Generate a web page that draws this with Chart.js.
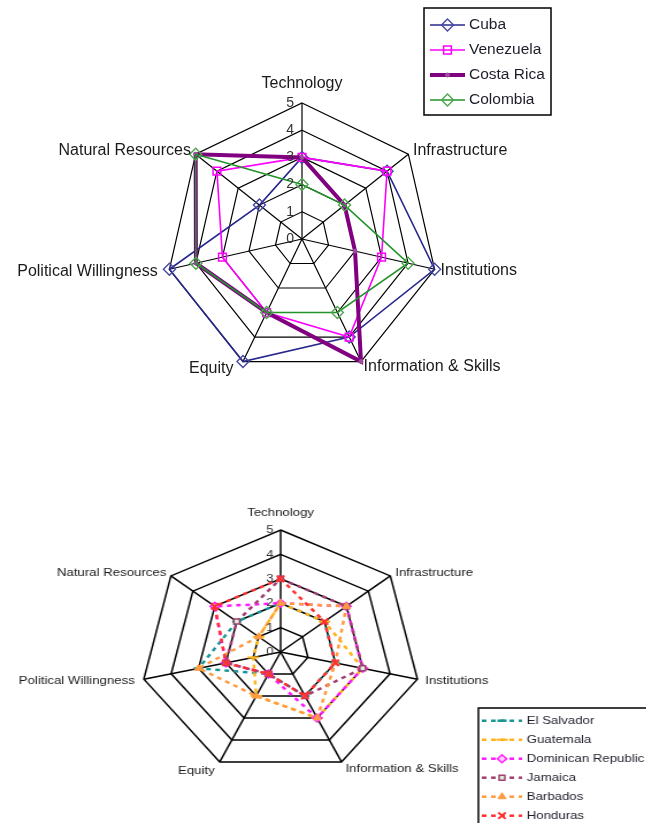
<!DOCTYPE html>
<html>
<head>
<meta charset="utf-8">
<script src="https://cdn.jsdelivr.net/npm/chart.js@4.4.1/dist/chart.umd.min.js"></script>
<style>
  body { margin: 0; background: #fff; overflow: hidden; }
  #topBox { position: absolute; left: 0; top: 0; width: 646px; height: 400px; }
  #botBox { position: absolute; left: 0; top: 400px; width: 562px; height: 423px;
            transform: scaleX(1.15); transform-origin: 0 0; }
</style>
</head>
<body>
<div id="topBox"><canvas id="topChart" width="646" height="400" style="width:646px;height:400px"></canvas></div>
<div id="botBox"><canvas id="botChart" width="562" height="423" style="width:562px;height:423px"></canvas></div>
<script>
// axes, clockwise from the top
const dimensions = ['Technology', 'Infrastructure', 'Institutions', 'Information & Skills',
                    'Equity', 'Political Willingness', 'Natural Resources'];
const tickValues = [0, 1, 2, 3, 4, 5];

// first chart
const cuba      = [3, 4, 5, 4, 5, 5, 2];
const venezuela = [3, 4, 3, 4, 3, 3, 4];
const costaRica = [3, 2, 2, 5, 3, 4, 5];
const colombia  = [2, 2, 4, 3, 3, 4, 5];

// second chart
const elSalvador = [2, 2, 2, 2, 1, 3, 2];
const guatemala  = [2, 2, 3, 3, 2, 1, 1];
const dominican  = [2, 3, 3, 3, 1, 2, 3];
const jamaica    = [3, 3, 3, 2, 1, 2, 2];
const barbados   = [2, 3, 2, 3, 2, 3, 1];
const honduras   = [3, 2, 2, 2, 1, 2, 3];

const FONT = '"Liberation Sans", Arial, sans-serif';

function marker(ctx, style, x, y, r, fill, stroke, lw) {
    ctx.save();
    ctx.fillStyle = fill;
    ctx.strokeStyle = stroke;
    ctx.lineWidth = lw;
    if (Chart.helpers && Chart.helpers.drawPoint) {
        Chart.helpers.drawPoint(ctx, { pointStyle: style, radius: r, borderWidth: lw, rotation: 0 }, x, y);
    } else {
        ctx.beginPath(); ctx.arc(x, y, r, 0, Math.PI * 2); ctx.fill(); ctx.stroke();
    }
    ctx.restore();
}

// tick numbers, point labels and the boxed legend
function decorations(opts) {
    return {
        id: 'decor',
        afterDraw(chart) {
            const s = chart.scales.r;
            const ctx = chart.ctx;
            ctx.save();
            // ticks
            ctx.font = opts.tickFont;
            ctx.fillStyle = '#333';
            ctx.textAlign = 'right';
            ctx.textBaseline = 'middle';
            tickValues.forEach(v => {
                const d = s.getDistanceFromCenterForValue(v);
                ctx.fillText(String(v), s.xCenter - opts.tickGap, s.yCenter - d);
            });
            // point labels
            ctx.font = opts.labelFont;
            ctx.fillStyle = '#1a1a1a';
            chart.data.labels.forEach((lab, i) => {
                const p = s.getPointPosition(i, s.drawingArea + opts.labelPad[i]);
                const dx = p.x - s.xCenter;
                ctx.textAlign = Math.abs(dx) < 2 ? 'center' : (dx > 0 ? 'left' : 'right');
                ctx.fillText(lab, p.x + (opts.labelShiftX[i] || 0), p.y);
            });
            // legend
            const L = opts.legend;
            ctx.strokeStyle = '#000';
            ctx.lineWidth = 1.5;
            ctx.strokeRect(L.x, L.y, L.w, L.h);
            ctx.font = opts.legendFont;
            ctx.textAlign = 'left';
            chart.data.datasets.forEach((ds, i) => {
                const y = L.firstRow + i * L.rowGap;
                ctx.save();
                ctx.strokeStyle = ds.borderColor;
                ctx.lineWidth = ds.borderWidth;
                ctx.setLineDash(ds.borderDash || []);
                ctx.beginPath();
                ctx.moveTo(L.sampleX0, y);
                ctx.lineTo(L.sampleX1, y);
                ctx.stroke();
                ctx.restore();
                marker(ctx, ds.pointStyle, (L.sampleX0 + L.sampleX1) / 2, y, ds.pointRadius,
                       ds.pointBackgroundColor, ds.pointBorderColor, ds.pointBorderWidth);
                ctx.fillStyle = '#1e1e2a';
                ctx.fillText(ds.label, L.textX, y);
            });
            ctx.restore();
        }
    };
}

function radarScale(gridWidth) {
    return {
        r: {
            min: 0, max: 5,
            ticks: { display: false, stepSize: 1 },
            grid: { color: '#000', lineWidth: gridWidth },
            angleLines: { color: '#000', lineWidth: gridWidth },
            pointLabels: { display: false }
        }
    };
}

// later series sit on top, as in the original
new Chart(document.getElementById('topChart'), {
    type: 'radar',
    data: {
        labels: dimensions,
        datasets: [
            { label: 'Cuba', data: cuba, order: 4, borderColor: '#28288c', borderWidth: 1.6,
              pointStyle: 'rectRot', pointRadius: 6, pointBorderWidth: 1.4,
              pointBackgroundColor: 'rgba(255,255,255,0)', pointBorderColor: '#4848a4' },
            { label: 'Venezuela', data: venezuela, order: 3, borderColor: '#ff00ff', borderWidth: 1.6,
              pointStyle: 'rect', pointRadius: 5.5, pointBorderWidth: 1.5,
              pointBackgroundColor: 'rgba(255,255,255,0)', pointBorderColor: '#ff00ff' },
            { label: 'Costa Rica', data: costaRica, order: 2, borderColor: '#800080', borderWidth: 4,
              pointStyle: 'circle', pointRadius: 2, pointBorderWidth: 1,
              pointBackgroundColor: '#9a509a', pointBorderColor: '#9a509a' },
            { label: 'Colombia', data: colombia, order: 1, borderColor: '#22932a', borderWidth: 1.6,
              pointStyle: 'rectRot', pointRadius: 6, pointBorderWidth: 1.4,
              pointBackgroundColor: 'rgba(255,255,255,0)', pointBorderColor: '#4ea64e' }
        ]
    },
    options: {
        responsive: false,
        animation: false,
        devicePixelRatio: 1,
        layout: { padding: { left: 166, right: 208, top: 103, bottom: 25 } },
        elements: { line: { tension: 0, fill: false } },
        plugins: { legend: { display: false }, tooltip: { enabled: false } },
        scales: radarScale(1.2)
    },
    plugins: [decorations({
        tickFont: '14px ' + FONT, tickGap: 8,
        labelFont: '16px ' + FONT, labelPad: [19, 6, 6, 6, 8, 12, 6],
        labelShiftX: [0, 0, 0, 0, -6, 0, 0],
        legendFont: '15.5px ' + FONT,
        legend: { x: 424, y: 8, w: 127, h: 107, firstRow: 25, rowGap: 25,
                  sampleX0: 430, sampleX1: 465, textX: 469 }
    })]
});

new Chart(document.getElementById('botChart'), {
    type: 'radar',
    data: {
        labels: dimensions,
        datasets: [
            { label: 'El Salvador', data: elSalvador, order: 6, borderColor: '#1a9696', borderWidth: 2.5, borderDash: [4, 4],
              pointStyle: 'line', pointRadius: 4, pointBorderWidth: 2.5,
              pointBackgroundColor: '#1a9696', pointBorderColor: '#1a9696' },
            { label: 'Guatemala', data: guatemala, order: 5, borderColor: '#ffb31a', borderWidth: 2.5, borderDash: [4, 4],
              pointStyle: 'line', pointRadius: 5, pointBorderWidth: 2,
              pointBackgroundColor: '#ffb31a', pointBorderColor: '#ffb31a' },
            { label: 'Dominican Republic', data: dominican, order: 4, borderColor: '#ff1aff', borderWidth: 2.5, borderDash: [4, 4],
              pointStyle: 'rectRot', pointRadius: 4, pointBorderWidth: 1.5,
              pointBackgroundColor: '#ffd0ff', pointBorderColor: '#ff1aff' },
            { label: 'Jamaica', data: jamaica, order: 3, borderColor: '#a04070', borderWidth: 2.5, borderDash: [4, 4],
              pointStyle: 'rect', pointRadius: 3.5, pointBorderWidth: 1.5,
              pointBackgroundColor: '#d8f5d8', pointBorderColor: '#a04070' },
            { label: 'Barbados', data: barbados, order: 2, borderColor: '#ff9a40', borderWidth: 2.5, borderDash: [4, 4],
              pointStyle: 'triangle', pointRadius: 4, pointBorderWidth: 1,
              pointBackgroundColor: '#ff9a40', pointBorderColor: '#ff9a40' },
            { label: 'Honduras', data: honduras, order: 1, borderColor: '#ff3030', borderWidth: 2.5, borderDash: [4, 4],
              pointStyle: 'crossRot', pointRadius: 4.5, pointBorderWidth: 2,
              pointBackgroundColor: '#ff3030', pointBorderColor: '#ff3030' }
        ]
    },
    options: {
        responsive: false,
        animation: false,
        devicePixelRatio: 1,
        layout: { padding: { left: 122, right: 196, top: 130, bottom: 49 } },
        elements: { line: { tension: 0, fill: false } },
        plugins: { legend: { display: false }, tooltip: { enabled: false } },
        scales: radarScale(1.5)
    },
    plugins: [decorations({
        tickFont: '11.5px ' + FONT, tickGap: 6,
        labelFont: '11.5px ' + FONT, labelPad: [17, 5.5, 7, 8, 10, 8, 5],
        labelShiftX: [0, 0, 0, 0, 0, 0, 0],
        legendFont: '11.5px ' + FONT,
        legend: { x: 416, y: 308, w: 200, h: 130, firstRow: 320.7, rowGap: 19,
                  sampleX0: 419, sampleX1: 454, textX: 458 }
    })]
});
</script>
</body>
</html>
